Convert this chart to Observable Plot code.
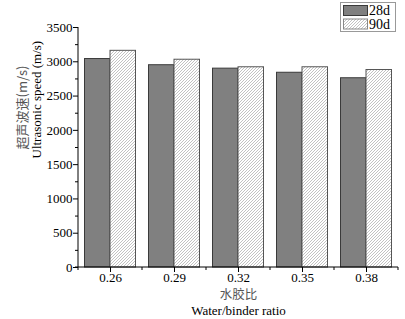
<!DOCTYPE html>
<html>
<head>
<meta charset="utf-8">
<script src="https://cdn.jsdelivr.net/npm/d3@7"></script>
<script src="https://cdn.jsdelivr.net/npm/@observablehq/plot@0.6"></script>
<style>
  html, body { margin: 0; padding: 0; background: #fff; }
  #chart { width: 405px; height: 319px; }
  #chart svg { font-family: "Liberation Serif", "Times New Roman", serif !important; }
  #chart svg text.zh { font-family: "Noto Sans CJK SC", sans-serif !important; }
</style>
</head>
<body>
<div id="chart"></div>
<script>
const ratios = ["0.26", "0.29", "0.32", "0.35", "0.38"];
const speed28 = [3040, 2950, 2900, 2840, 2760];
const speed90 = [3160, 3030, 2920, 2920, 2880];
const series = ["28d", "90d"];
const yMajor = [0, 500, 1000, 1500, 2000, 2500, 3000, 3500];
const yMinor = [250, 750, 1250, 1750, 2250, 2750, 3250];
const yTitleZh = "超声波速(m/s)";
const yTitleEn = "Ultrasonic speed (m/s)";
const xTitleZh = "水胶比";
const xTitleEn = "Water/binder ratio";

const data28 = ratios.map((r, i) => ({ratio: r, value: speed28[i]}));
const data90 = ratios.map((r, i) => ({ratio: r, value: speed90[i]}));

const SERIF = "Liberation Serif";

function defsMark() {
  const g = d3.create("svg:g");
  const defs = g.append("defs");
  const p = defs.append("pattern").attr("id", "hatch")
    .attr("patternUnits", "userSpaceOnUse").attr("width", 3).attr("height", 3);
  p.append("rect").attr("width", 3).attr("height", 3).attr("fill", "#fff");
  p.append("path").attr("d", "M-1,1 l2,-2 M0,3 l3,-3 M2,4 l2,-2")
    .attr("stroke", "#a8a8a8").attr("stroke-width", 0.7);
  return g.node();
}

function axisLines(index, scales, values, dims) {
  const x = scales.x, bw = x.bandwidth();
  const y0 = dims.height - dims.marginBottom;
  const edges = ratios.map(r => x(r)).concat([x(ratios[ratios.length - 1]) + bw]);
  const g = d3.create("svg:g").attr("stroke", "#000").attr("stroke-width", 1);
  edges.forEach(e => g.append("line").attr("x1", e).attr("x2", e).attr("y1", y0).attr("y2", y0 + 3));
  g.append("line").attr("x1", dims.marginLeft).attr("x2", dims.marginLeft)
    .attr("y1", dims.marginTop).attr("y2", y0);
  g.append("line").attr("x1", dims.marginLeft - 3).attr("x2", dims.width - dims.marginRight)
    .attr("y1", y0).attr("y2", y0);
  return g.node();
}

function legend() {
  const g = d3.create("svg:g").attr("text-anchor", "start");
  g.append("rect").attr("x", 340.5).attr("y", 2.5).attr("width", 55).attr("height", 29)
    .attr("fill", "#fff").attr("stroke", "#999").attr("stroke-width", 1);
  const fills = ["#808080", "url(#hatch)"];
  const strokes = ["#3a3a3a", "#888"];
  series.forEach((s, i) => {
    g.append("rect").attr("x", 343.5).attr("y", 5.5 + i * 13.5).attr("width", 24).attr("height", 10)
      .attr("fill", fills[i]).attr("stroke", strokes[i]).attr("stroke-width", 1);
    g.append("text").attr("x", 369).attr("y", 15 + i * 13.5).attr("font-size", 14)
      .attr("text-anchor", "start")
      .attr("font-family", SERIF).attr("fill", "#000").text(s);
  });
  return g.node();
}

const chart = Plot.plot({
  width: 405,
  height: 319,
  marginLeft: 78,
  marginRight: 7,
  marginTop: 27,
  marginBottom: 52,
  style: {fontFamily: SERIF, fontSize: "13px", background: "#fff", color: "#000"},
  x: {type: "band", domain: ratios, padding: 0, label: null},
  y: {domain: [0, 3500], label: null},
  marks: [
    defsMark,
    Plot.barY(data28, {x: "ratio", y: "value", fill: "#808080", stroke: "#3a3a3a", strokeWidth: 1, insetLeft: 6.5, insetRight: 32}),
    Plot.barY(data90, {x: "ratio", y: "value", fill: "url(#hatch)", stroke: "#555", strokeWidth: 1, insetLeft: 32, insetRight: 6.5}),
    Plot.axisY({ticks: yMajor, tickSize: 5, tickPadding: 1, fontSize: 13, fontFamily: SERIF, tickFormat: d => String(d), label: null}),
    Plot.axisY({ticks: yMinor, tickSize: 3, text: null, label: null}),
    Plot.axisX({tickSize: 5, tickPadding: 0, fontSize: 13, fontFamily: SERIF, label: null}),
    axisLines,
    Plot.text([yTitleZh], {frameAnchor: "left", text: d => d, rotate: -90, dx: -56, dy: 2, fill: "#555", fontSize: 13, fontFamily: "Noto Sans CJK SC", className: "zh", lineAnchor: "middle"}),
    Plot.text([yTitleEn], {frameAnchor: "left", text: d => d, rotate: -90, dx: -42, dy: 11, fill: "#000", fontSize: 13, fontFamily: SERIF, lineAnchor: "middle"}),
    Plot.text([xTitleZh], {frameAnchor: "bottom", text: d => d, dy: 27, fill: "#555", fontSize: 12.5, fontFamily: "Noto Sans CJK SC", className: "zh", lineAnchor: "middle"}),
    Plot.text([xTitleEn], {frameAnchor: "bottom", text: d => d, dy: 43, fill: "#000", fontSize: 13, fontFamily: SERIF, lineAnchor: "middle"}),
    legend
  ]
});
document.getElementById("chart").appendChild(chart);
</script>
</body>
</html>
